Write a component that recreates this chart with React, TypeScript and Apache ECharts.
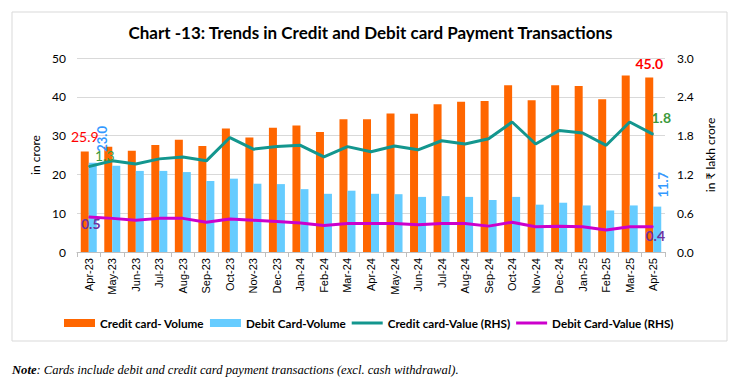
import React, { useEffect, useRef } from "react";
import * as echarts from "echarts";

const months = [
  "Apr-23", "May-23", "Jun-23", "Jul-23", "Aug-23", "Sep-23", "Oct-23", "Nov-23", "Dec-23",
  "Jan-24", "Feb-24", "Mar-24", "Apr-24", "May-24", "Jun-24", "Jul-24", "Aug-24", "Sep-24",
  "Oct-24", "Nov-24", "Dec-24", "Jan-25", "Feb-25", "Mar-25", "Apr-25",
];
const creditVolume = [
  25.9, 27.1, 26.1, 27.6, 28.9, 27.3, 31.8, 29.5, 32.0, 32.6, 30.9, 34.2, 34.2, 35.7, 35.6,
  38.1, 38.7, 38.9, 43.0, 39.1, 43.0, 42.8, 39.4, 45.5, 45.0,
];
const debitVolume = [
  23.0, 22.2, 20.9, 20.9, 20.6, 18.3, 18.9, 17.6, 17.5, 16.2, 15.0, 15.8, 15.0, 14.9, 14.2,
  14.4, 14.2, 13.4, 14.2, 12.2, 12.7, 12.0, 10.7, 12.0, 11.7,
];
const creditValue = [
  1.32, 1.41, 1.36, 1.44, 1.47, 1.41, 1.77, 1.59, 1.63, 1.65, 1.47, 1.63, 1.55, 1.64, 1.58,
  1.72, 1.67, 1.75, 2.01, 1.67, 1.88, 1.84, 1.65, 2.01, 1.82,
];
const debitValue = [
  0.54, 0.52, 0.49, 0.52, 0.52, 0.46, 0.51, 0.49, 0.47, 0.45, 0.41, 0.44, 0.44, 0.44, 0.42,
  0.44, 0.44, 0.40, 0.46, 0.39, 0.40, 0.39, 0.34, 0.39, 0.39,
];
const seriesNames = [
  "Credit card- Volume",
  "Debit Card-Volume",
  "Credit card-Value (RHS)",
  "Debit Card-Value (RHS)",
];

const withEndLabels = (values: number[], first: any, last: any) =>
  values.map((v, i) => {
    if (i === 0) return { value: v, label: first };
    if (i === values.length - 1) return { value: v, label: last };
    return v;
  });

const lbl = (color: string, extra: any) => ({
  show: true,
  color,
  fontFamily: "Lato",
  fontWeight: "bold",
  fontSize: 13,
  formatter: (p: any) => Number(p.value).toFixed(1),
  ...extra,
});

const lineIcon = "path://M0,0H31V3H0Z";

export default function App() {
  const ref = useRef<HTMLDivElement>(null);
  useEffect(() => {
    if (!ref.current) return;
    const chart = echarts.init(ref.current, undefined, { renderer: "svg" });
    const option: any = {
      animation: false,
      backgroundColor: "#ffffff",
      title: {
        text: "Chart -13: Trends in Credit and Debit card Payment Transactions",
        left: "center",
        top: 19,
        textStyle: { fontFamily: "Lato", fontWeight: "bold", fontSize: 17, color: "#000" },
      },
      grid: { left: 77, right: 76, top: 58, bottom: 136 },
      legend: {
        left: 64,
        top: 317,
        padding: 0,
        itemWidth: 31,
        itemHeight: 8,
        itemGap: 6,
        symbolKeepAspect: true,
        textStyle: { fontFamily: "Lato", fontWeight: "bold", fontSize: 11.7, color: "#000" },
        data: [
          { name: seriesNames[0], icon: "rect" },
          { name: seriesNames[1], icon: "rect" },
          { name: seriesNames[2], icon: lineIcon },
          { name: seriesNames[3], icon: lineIcon },
        ],
      },
      xAxis: {
        type: "category",
        data: months,
        axisLine: { lineStyle: { color: "#bfbfbf" } },
        axisTick: { show: true, length: 5, lineStyle: { color: "#bfbfbf" } },
        axisLabel: {
          rotate: 90,
          fontFamily: "Liberation Sans",
          fontSize: 11,
          color: "#000",
          margin: 6,
          interval: 0,
        },
      },
      yAxis: [
        {
          type: "value",
          min: 0,
          max: 50,
          interval: 10,
          name: "in crore",
          nameLocation: "middle",
          nameGap: 36,
          nameTextStyle: { fontFamily: "Lato", fontSize: 12, color: "#000" },
          axisLine: { show: false },
          axisTick: { show: false },
          axisLabel: { fontFamily: "Lato", fontSize: 12, color: "#000", margin: 11 },
          splitLine: { lineStyle: { color: "#d9d9d9" } },
        },
        {
          type: "value",
          min: 0,
          max: 3,
          interval: 0.6,
          name: "in ₹ lakh crore",
          nameLocation: "middle",
          nameGap: 36,
          nameTextStyle: { fontFamily: "Lato", fontSize: 12, color: "#000" },
          axisLine: { show: false },
          axisTick: { show: false },
          axisLabel: {
            fontFamily: "Lato",
            fontSize: 12,
            color: "#000",
            margin: 12,
            formatter: (v: number) => v.toFixed(1),
          },
          splitLine: { show: false },
        },
      ],
      series: [
        {
          name: seriesNames[0],
          type: "bar",
          barWidth: 8,
          barGap: "0%",
          itemStyle: { color: "#FF6600" },
          data: withEndLabels(
            creditVolume,
            lbl("#FF0000", { position: "top", distance: 8, fontWeight: "normal", fontSize: 14 }),
            lbl("#FF0000", { position: "top", distance: 7, fontSize: 14 })
          ),
        },
        {
          name: seriesNames[1],
          type: "bar",
          barWidth: 8,
          itemStyle: { color: "#66CCFF" },
          data: withEndLabels(
            debitVolume,
            lbl("#3399FF", {
              position: "top",
              rotate: 90,
              align: "left",
              verticalAlign: "middle",
              distance: 11,
              offset: [0, 9],
            }),
            lbl("#3399FF", {
              position: "top",
              rotate: 90,
              align: "left",
              verticalAlign: "middle",
              distance: 9,
              offset: [0, 6],
            })
          ),
        },
        {
          name: seriesNames[2],
          type: "line",
          yAxisIndex: 1,
          symbol: "circle",
          symbolSize: 1,
          showSymbol: true,
          lineStyle: { color: "#13968E", width: 3 },
          itemStyle: { color: "#13968E" },
          data: withEndLabels(
            creditValue,
            lbl("#3C9A3C", { position: "top", distance: 4, offset: [16, 0], fontWeight: "normal", fontSize: 14 }),
            lbl("#3C9A3C", { position: "top", distance: 9, offset: [8, 0], fontSize: 14 })
          ),
        },
        {
          name: seriesNames[3],
          type: "line",
          yAxisIndex: 1,
          symbol: "circle",
          symbolSize: 1,
          showSymbol: true,
          lineStyle: { color: "#CC00CC", width: 3 },
          itemStyle: { color: "#CC00CC" },
          data: withEndLabels(
            debitValue,
            lbl("#7030A0", { position: "bottom", distance: 0, offset: [2, -1], fontSize: 14 }),
            lbl("#7030A0", { position: "bottom", distance: 1, offset: [2, 0], fontSize: 14 })
          ),
        },
      ],
      graphic: [
        {
          type: "rect",
          shape: { x: 12, y: 12, width: 715, height: 329 },
          style: { fill: "none", stroke: "#d9d9d9", lineWidth: 1 },
          silent: true,
          z: -1,
        },
        {
          type: "text",
          x: 12,
          y: 370,
          style: {
            text: "{b|Note}: Cards include debit and credit card payment transactions (excl. cash withdrawal).",
            fontFamily: "Liberation Serif",
            fontStyle: "italic",
            fontSize: 12.6,
            fill: "#000",
            verticalAlign: "middle",
            rich: {
              b: { fontFamily: "Liberation Serif", fontStyle: "italic", fontWeight: "bold", fontSize: 12.6, fill: "#000" },
            },
          },
        },
      ],
    };
    chart.setOption(option);
    return () => chart.dispose();
  }, []);
  return (
    <div
      ref={ref}
      style={{ position: "fixed", left: 0, top: 0, width: 741, height: 388 }}
    />
  );
}
